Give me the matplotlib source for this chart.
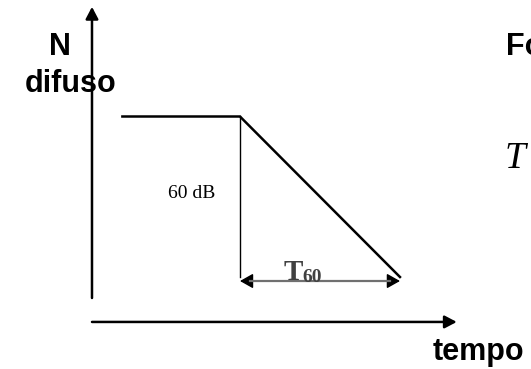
import numpy as np
import matplotlib
matplotlib.use("Agg")
import matplotlib.pyplot as plt
from matplotlib.patches import FancyArrowPatch

# Decay curve: diffuse level (dB) vs time (s), T60 = 1 s
decay_time = [0.19, 0.925, 1.925]
decay_level = [60, 60, 0]
t60_start = 0.925
t60 = 1.0
axis_x_end = 2.28
axis_y_top = 101.0
axis_y_bottom = -7.85
axis_x_level = -16.8
arrow_level = -1.5

W, H = 531, 369
fig = plt.figure(figsize=(W / 100, H / 100), dpi=100)
ax = fig.add_axes([0, 0, 1, 1])
ax.set_xlim(-0.575, 2.744)
ax.set_ylim(-34.39, 103.55)
ax.axis("off")

def px(x, y):
    return x / W, 1 - y / H

# axes with arrows
head = "-|>,head_length=0.8,head_width=0.42"
ax.annotate("", xy=(0, axis_y_top), xytext=(0, axis_y_bottom),
            arrowprops=dict(arrowstyle=head, color="black", lw=1.8,
                            shrinkA=0, shrinkB=0, mutation_scale=9))
ax.annotate("", xy=(axis_x_end, axis_x_level), xytext=(0, axis_x_level),
            arrowprops=dict(arrowstyle=head, color="black", lw=1.8,
                            shrinkA=0, shrinkB=0, mutation_scale=9))

# decay curve
ax.plot(decay_time, decay_level, color="black", lw=1.8,
        solid_joinstyle="miter")
ax.plot([t60_start, t60_start], [decay_level[1], decay_level[2]],
        color="black", lw=1.0)

# T60 span: black heads, grey shaft
arr = FancyArrowPatch((t60_start, arrow_level), (t60_start + t60, arrow_level),
                      arrowstyle="<|-|>,head_length=0.8,head_width=0.45",
                      mutation_scale=10, color="black", lw=1.0,
                      shrinkA=0, shrinkB=0)
ax.add_patch(arr)
ax.plot([t60_start + 0.06, t60_start + t60 - 0.06], [arrow_level, arrow_level],
        color="#707070", lw=1.6)

sans = "Liberation Sans"
serif = "Liberation Serif"
fig.text(*px(60, 55), "N", fontsize=22, fontweight="bold", family=sans,
         ha="center", va="baseline")
fig.text(*px(71, 92), "difuso", fontsize=22, fontweight="bold", family=sans,
         ha="center", va="baseline")
fig.text(*px(506, 55), "Fo", fontsize=22, fontweight="bold", family=sans,
         ha="left", va="baseline")
fig.text(*px(505, 168), "T", fontsize=27, fontstyle="italic", family=serif,
         ha="left", va="baseline")
fig.text(*px(433, 360), "tempo", fontsize=22, fontweight="bold", family=sans,
         ha="left", va="baseline")
fig.text(*px(168, 198), "60 dB", fontsize=14, family=serif,
         ha="left", va="baseline")
fig.text(*px(284, 280), "T", fontsize=21, fontweight="bold", family=serif,
         color="#404040", ha="left", va="baseline")
fig.text(*px(302, 282), "60", fontsize=14, fontweight="bold", family=serif,
         color="#404040", ha="left", va="baseline")

fig.savefig("out.png", dpi=100)
